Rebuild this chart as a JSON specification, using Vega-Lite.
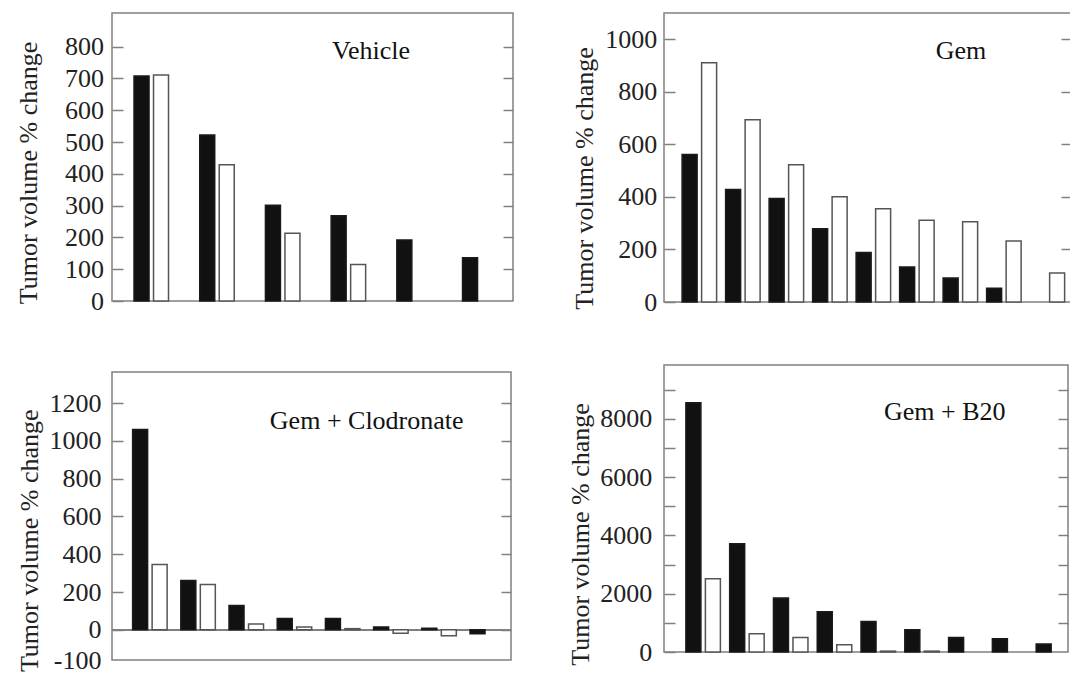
{
  "$schema": "https://vega.github.io/schema/vega-lite/v6.json",
  "padding": {"left": 14, "top": 12, "right": 0, "bottom": 0},
  "spacing": 51,
  "datasets": {
    "bars": [
      {"panel": "Vehicle", "group": 1, "series": "A", "value": 708},
      {"panel": "Vehicle", "group": 1, "series": "B", "value": 711},
      {"panel": "Vehicle", "group": 2, "series": "A", "value": 522},
      {"panel": "Vehicle", "group": 2, "series": "B", "value": 429},
      {"panel": "Vehicle", "group": 3, "series": "A", "value": 301},
      {"panel": "Vehicle", "group": 3, "series": "B", "value": 213},
      {"panel": "Vehicle", "group": 4, "series": "A", "value": 268},
      {"panel": "Vehicle", "group": 4, "series": "B", "value": 115},
      {"panel": "Vehicle", "group": 5, "series": "A", "value": 192},
      {"panel": "Vehicle", "group": 6, "series": "A", "value": 136},
      {"panel": "Gem", "group": 1, "series": "A", "value": 561},
      {"panel": "Gem", "group": 1, "series": "B", "value": 911},
      {"panel": "Gem", "group": 2, "series": "A", "value": 428},
      {"panel": "Gem", "group": 2, "series": "B", "value": 694},
      {"panel": "Gem", "group": 3, "series": "A", "value": 394},
      {"panel": "Gem", "group": 3, "series": "B", "value": 522},
      {"panel": "Gem", "group": 4, "series": "A", "value": 279},
      {"panel": "Gem", "group": 4, "series": "B", "value": 401},
      {"panel": "Gem", "group": 5, "series": "A", "value": 188},
      {"panel": "Gem", "group": 5, "series": "B", "value": 355},
      {"panel": "Gem", "group": 6, "series": "A", "value": 133},
      {"panel": "Gem", "group": 6, "series": "B", "value": 311},
      {"panel": "Gem", "group": 7, "series": "A", "value": 91},
      {"panel": "Gem", "group": 7, "series": "B", "value": 305},
      {"panel": "Gem", "group": 8, "series": "A", "value": 52},
      {"panel": "Gem", "group": 8, "series": "B", "value": 232},
      {"panel": "Gem", "group": 9, "series": "B", "value": 110},
      {"panel": "Gem + Clodronate", "group": 1, "series": "A", "value": 1061},
      {"panel": "Gem + Clodronate", "group": 1, "series": "B", "value": 346},
      {"panel": "Gem + Clodronate", "group": 2, "series": "A", "value": 261},
      {"panel": "Gem + Clodronate", "group": 2, "series": "B", "value": 240},
      {"panel": "Gem + Clodronate", "group": 3, "series": "A", "value": 129},
      {"panel": "Gem + Clodronate", "group": 3, "series": "B", "value": 30},
      {"panel": "Gem + Clodronate", "group": 4, "series": "A", "value": 60},
      {"panel": "Gem + Clodronate", "group": 4, "series": "B", "value": 15},
      {"panel": "Gem + Clodronate", "group": 5, "series": "A", "value": 60},
      {"panel": "Gem + Clodronate", "group": 5, "series": "B", "value": 6},
      {"panel": "Gem + Clodronate", "group": 6, "series": "A", "value": 15},
      {"panel": "Gem + Clodronate", "group": 6, "series": "B", "value": -18},
      {"panel": "Gem + Clodronate", "group": 7, "series": "A", "value": 8},
      {"panel": "Gem + Clodronate", "group": 7, "series": "B", "value": -32},
      {"panel": "Gem + Clodronate", "group": 8, "series": "A", "value": -21},
      {"panel": "Gem + B20", "group": 1, "series": "A", "value": 8557},
      {"panel": "Gem + B20", "group": 1, "series": "B", "value": 2513},
      {"panel": "Gem + B20", "group": 2, "series": "A", "value": 3713},
      {"panel": "Gem + B20", "group": 2, "series": "B", "value": 627},
      {"panel": "Gem + B20", "group": 3, "series": "A", "value": 1851},
      {"panel": "Gem + B20", "group": 3, "series": "B", "value": 500},
      {"panel": "Gem + B20", "group": 4, "series": "A", "value": 1382},
      {"panel": "Gem + B20", "group": 4, "series": "B", "value": 250},
      {"panel": "Gem + B20", "group": 5, "series": "A", "value": 1049},
      {"panel": "Gem + B20", "group": 5, "series": "B", "value": 30},
      {"panel": "Gem + B20", "group": 6, "series": "A", "value": 765},
      {"panel": "Gem + B20", "group": 6, "series": "B", "value": 30},
      {"panel": "Gem + B20", "group": 7, "series": "A", "value": 500},
      {"panel": "Gem + B20", "group": 8, "series": "A", "value": 456},
      {"panel": "Gem + B20", "group": 9, "series": "A", "value": 274}
    ]
  },
  "hconcat": [
    {
      "spacing": 56,
      "vconcat": [
        {
          "width": 401, "height": 288,
          "data": {"name": "bars"},
          "transform": [{"filter": "datum.panel === 'Vehicle'"}],
          "title": {"text": "Vehicle", "dx": 58.5, "offset": -51},
          "layer": [
            {
              "mark": {"type": "bar", "strokeWidth": 1.5},
              "encoding": {
                "x": {"field": "group", "type": "ordinal", "axis": null, "scale": {"paddingInner": 0.475, "paddingOuter": 0.289, "align": 0.58}},
                "xOffset": {"field": "series", "type": "nominal", "scale": {"domain": ["A", "B"], "paddingInner": 0.231, "paddingOuter": 0}},
                "y": {"field": "value", "type": "quantitative", "scale": {"domain": [0, 906], "nice": false, "zero": false},
                      "axis": {"orient": "left", "values": [0, 100, 200, 300, 400, 500, 600, 700, 800], "labelExpr": "'' + datum.value", "labelPadding": 19.6, "title": "Tumor volume % change", "titleX": -84, "titleY": 159.5}},
                "color": {"field": "series", "type": "nominal", "scale": {"domain": ["A", "B"], "range": ["#111111", "#ffffff"]}, "legend": null},
                "stroke": {"field": "series", "type": "nominal", "scale": {"domain": ["A", "B"], "range": ["#1a1a1a", "#555555"]}, "legend": null}
              }
            },
            {
              "mark": {"type": "point", "opacity": 0},
              "encoding": {
                "y": {"field": "value", "type": "quantitative", "axis": {"orient": "right", "labels": false, "title": null, "tickSize": -10, "values": [100, 200, 300, 400, 500, 600, 700, 800]}}
              }
            }
          ],
          "resolve": {"axis": {"y": "independent"}}
        },
        {
          "width": 399, "height": 288,
          "data": {"name": "bars"},
          "transform": [{"filter": "datum.panel === 'Gem + Clodronate'"}],
          "title": {"text": "Gem + Clodronate", "dx": 55.2, "offset": -62},
          "layer": [
            {
              "mark": {"type": "rule", "color": "#808080", "strokeWidth": 1.5},
              "encoding": {"y": {"datum": 0, "type": "quantitative", "axis": null}}
            },
            {
              "mark": {"type": "bar", "strokeWidth": 1.5},
              "encoding": {
                "x": {"field": "group", "type": "ordinal", "axis": null, "scale": {"paddingInner": 0.328, "paddingOuter": 0.303, "align": 0.706}},
                "xOffset": {"field": "series", "type": "nominal", "scale": {"domain": ["A", "B"], "paddingInner": 0.138, "paddingOuter": 0}},
                "y": {"field": "value", "type": "quantitative", "scale": {"domain": [-160, 1365], "nice": false, "zero": false},
                      "axis": {"orient": "left", "values": [-100, 0, 200, 400, 600, 800, 1000, 1200], "labelExpr": "'' + datum.value", "labelPadding": 22,
                               "labelOffset": {"condition": {"test": "datum.value < 0", "value": 12}, "value": 0},
                               "tickOpacity": {"condition": {"test": "datum.value < 0", "value": 0}, "value": 1},
                               "title": "Tumor volume % change", "titleX": -83, "titleY": 168.3}},
                "color": {"field": "series", "type": "nominal", "scale": {"domain": ["A", "B"], "range": ["#111111", "#ffffff"]}, "legend": null},
                "stroke": {"field": "series", "type": "nominal", "scale": {"domain": ["A", "B"], "range": ["#1a1a1a", "#555555"]}, "legend": null}
              }
            },
            {
              "mark": {"type": "point", "opacity": 0},
              "encoding": {
                "y": {"field": "value", "type": "quantitative", "axis": {"orient": "right", "labels": false, "title": null, "tickSize": -10, "values": [0, 200, 400, 600, 800, 1000, 1200]}}
              }
            }
          ],
          "resolve": {"axis": {"y": "independent"}}
        }
      ]
    },
    {
      "spacing": 48,
      "vconcat": [
        {
          "width": 407, "height": 289,
          "data": {"name": "bars"},
          "transform": [{"filter": "datum.panel === 'Gem'"}],
          "title": {"text": "Gem", "dx": 93.4, "offset": -51},
          "layer": [
            {
              "mark": {"type": "bar", "strokeWidth": 1.5},
              "encoding": {
                "x": {"field": "group", "type": "ordinal", "axis": null, "scale": {"paddingInner": 0.32, "paddingOuter": 0.338, "align": 0.616}},
                "xOffset": {"field": "series", "type": "nominal", "scale": {"domain": ["A", "B"], "paddingInner": 0, "paddingOuter": 0}},
                "y": {"field": "value", "type": "quantitative", "scale": {"domain": [0, 1100], "nice": false, "zero": false},
                      "axis": {"orient": "left", "values": [0, 200, 400, 600, 800, 1000], "labelExpr": "'' + datum.value", "labelPadding": 18.3, "title": "Tumor volume % change", "titleX": -80, "titleY": 165}},
                "color": {"field": "series", "type": "nominal", "scale": {"domain": ["A", "B"], "range": ["#111111", "#ffffff"]}, "legend": null},
                "stroke": {"field": "series", "type": "nominal", "scale": {"domain": ["A", "B"], "range": ["#1a1a1a", "#555555"]}, "legend": null}
              }
            },
            {
              "mark": {"type": "point", "opacity": 0},
              "encoding": {
                "y": {"field": "value", "type": "quantitative", "axis": {"orient": "right", "labels": false, "title": null, "tickSize": -10, "values": [200, 400, 600, 800, 1000]}}
              }
            }
          ],
          "resolve": {"axis": {"y": "independent"}}
        },
        {
          "width": 404, "height": 287,
          "data": {"name": "bars"},
          "transform": [{"filter": "datum.panel === 'Gem + B20'"}],
          "title": {"text": "Gem + B20", "dx": 78.8, "offset": -60},
          "layer": [
            {
              "mark": {"type": "bar", "strokeWidth": 1.5},
              "encoding": {
                "x": {"field": "group", "type": "ordinal", "axis": null, "scale": {"paddingInner": 0.273, "paddingOuter": 0.25, "align": 1}},
                "xOffset": {"field": "series", "type": "nominal", "scale": {"domain": ["A", "B"], "paddingInner": 0.118, "paddingOuter": 0}},
                "y": {"field": "value", "type": "quantitative", "scale": {"domain": [0, 9850], "nice": false, "zero": false},
                      "axis": {"orient": "left", "values": [0, 1000, 2000, 3000, 4000, 5000, 6000, 7000, 8000, 9000], "labelExpr": "datum.value % 2000 == 0 ? '' + datum.value : ''", "labelPadding": 23.3, "title": "Tumor volume % change", "titleX": -83.3, "titleY": 169}},
                "color": {"field": "series", "type": "nominal", "scale": {"domain": ["A", "B"], "range": ["#111111", "#ffffff"]}, "legend": null},
                "stroke": {"field": "series", "type": "nominal", "scale": {"domain": ["A", "B"], "range": ["#1a1a1a", "#555555"]}, "legend": null}
              }
            },
            {
              "mark": {"type": "point", "opacity": 0},
              "encoding": {
                "y": {"field": "value", "type": "quantitative", "axis": {"orient": "right", "labels": false, "title": null, "tickSize": -10, "values": [1000, 2000, 3000, 4000, 5000, 6000, 7000, 8000, 9000]}}
              }
            }
          ],
          "resolve": {"axis": {"y": "independent"}}
        }
      ]
    }
  ],
  "config": {
    "font": "Liberation Serif",
    "view": {"stroke": "#808080", "strokeWidth": 1.5},
    "axis": {
      "domain": false, "grid": false,
      "labelFont": "Liberation Serif", "labelFontSize": 26, "labelColor": "#222222", "labelOverlap": false,
      "titleFont": "Liberation Serif", "titleFontSize": 26, "titleFontWeight": "normal", "titleColor": "#222222", "titleBaseline": "middle",
      "tickColor": "#808080", "tickWidth": 1.5, "tickSize": -11
    },
    "title": {"font": "Liberation Serif", "fontSize": 26, "fontWeight": "normal", "color": "#111111", "frame": "group", "anchor": "middle", "baseline": "alphabetic"}
  }
}
